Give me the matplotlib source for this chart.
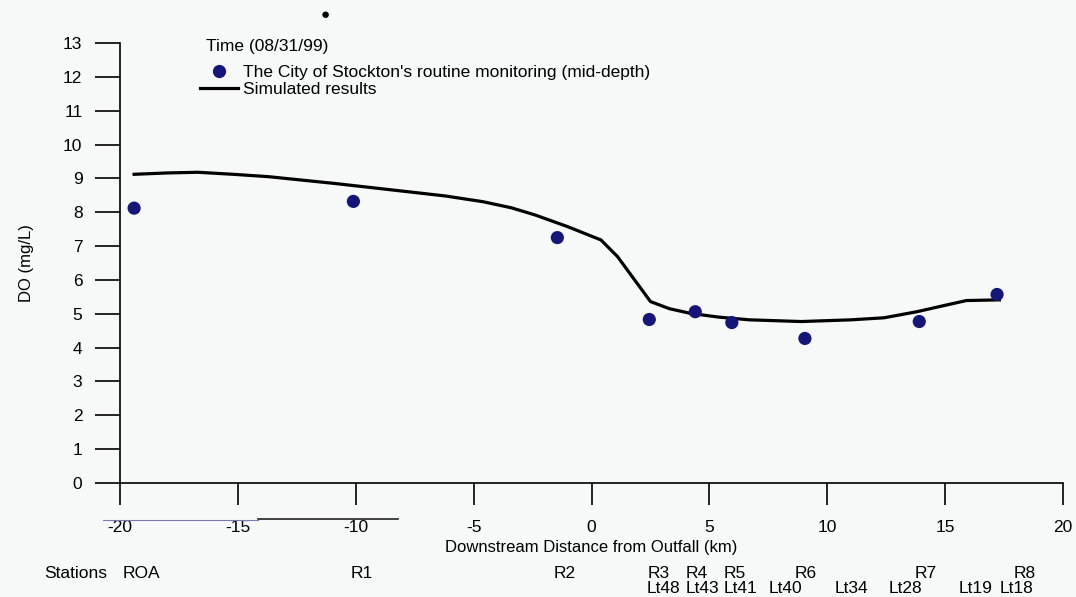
import numpy as np
import matplotlib
matplotlib.use('Agg')
import matplotlib.pyplot as plt
from matplotlib.lines import Line2D

plt.rcParams['font.family'] = ['Liberation Sans', 'DejaVu Sans']
plt.rcParams['axes.unicode_minus'] = False

# Observed DO (City of Stockton routine monitoring, mid-depth)
obs_km = [-19.4, -10.1, -1.45, 2.45, 4.4, 5.95, 9.05, 13.9, 17.2]
obs_do = [8.12, 8.32, 7.25, 4.83, 5.06, 4.74, 4.27, 4.77, 5.57]

# Simulated results
sim_km = [-19.4, -18.0, -16.7, -15.2, -13.7, -10.9, -8.1, -6.2, -4.6, -3.4, -2.4,
          -1.0, 0.4, 1.1, 2.5, 3.3, 4.2, 5.4, 6.7, 8.9, 11.0, 12.4, 13.8, 15.0,
          15.9, 17.3]
sim_do = [9.12, 9.16, 9.18, 9.12, 9.05, 8.85, 8.63, 8.48, 8.31, 8.13, 7.92,
          7.57, 7.18, 6.69, 5.36, 5.15, 5.01, 4.90, 4.82, 4.77, 4.82, 4.88, 5.06,
          5.25, 5.39, 5.41]

# Station labels (left edge, km)
stn_top = ['ROA', 'R1', 'R2', 'R3', 'R4', 'R5', 'R6', 'R7', 'R8']
stn_top_km = [-19.9, -10.2, -1.6, 2.4, 4.0, 5.6, 8.6, 13.7, 17.9]
stn_bot = ['Lt48', 'Lt43', 'Lt41', 'Lt40', 'Lt34', 'Lt28', 'Lt19', 'Lt18']
stn_bot_km = [2.33, 4.0, 5.6, 7.5, 10.3, 12.6, 15.55, 17.3]

BG = '#f7f8f8'
DOT = '#15157a'
FS = 12.5

fig = plt.figure(figsize=(10.76, 5.97), dpi=100, facecolor=BG)
ax = fig.add_axes([0.1115, 0.191, 0.8765, 0.737], facecolor=BG)

ax.plot(sim_km, sim_do, color='black', lw=2.3, solid_joinstyle='round', zorder=2)
ax.scatter(obs_km, obs_do, s=90, color=DOT, edgecolors='none', zorder=3)

ax.set_xlim(-20, 20)
ax.set_ylim(0, 13)
ax.set_xticks(np.arange(-20, 21, 5))
ax.set_yticks(np.arange(0, 14, 1))
ax.tick_params(axis='y', direction='out', length=18, width=1.2, pad=9, labelsize=FS)
ax.tick_params(axis='x', direction='out', length=16, width=1.2, pad=11, labelsize=FS)
for s in ['top', 'right']:
    ax.spines[s].set_visible(False)
for s in ['left', 'bottom']:
    ax.spines[s].set_linewidth(1.2)

ax.set_xlabel('Downstream Distance from Outfall (km)', fontsize=12, labelpad=3)
ax.set_ylabel('DO (mg/L)', fontsize=12, labelpad=21)

# legend block
ax.text(0.091, 0.993, 'Time (08/31/99)', transform=ax.transAxes, fontsize=12.5, va='center')
handles = [Line2D([], [], marker='o', ls='none', color=DOT, markersize=8.5),
           Line2D([], [], color='black', lw=2.3)]
ax.legend(handles, ["The City of Stockton's routine monitoring (mid-depth)", 'Simulated results'],
          loc='upper left', bbox_to_anchor=(0.085, 0.95), frameon=False, fontsize=12.5,
          handlelength=2.2, handletextpad=0.25, labelspacing=0.08, borderpad=0, borderaxespad=0)

# station rows under the axis
trans = ax.get_xaxis_transform()
fig.text(44 / 1076, 1 - 574 / 597, 'Stations', fontsize=FS, va='center')
for name, km in zip(stn_top, stn_top_km):
    ax.text(km, -0.205, name, transform=trans, fontsize=FS, va='center', ha='left')
for name, km in zip(stn_bot, stn_bot_km):
    ax.text(km, -0.239, name, transform=trans, fontsize=FS, va='center', ha='left')

# scanner marks in the original
fig.add_artist(Line2D([258 / 1076, 398 / 1076], [1 - 519 / 597] * 2, color='#222222', lw=1.2))
fig.add_artist(Line2D([103 / 1076, 258 / 1076], [1 - 520 / 597] * 2, color='#7a7ab0', lw=0.8))
fig.text(325 / 1076, 1 - 15 / 597, '\u25cf', fontsize=11, ha='center', va='center')

fig.savefig('out.png', dpi=100, facecolor=BG)
